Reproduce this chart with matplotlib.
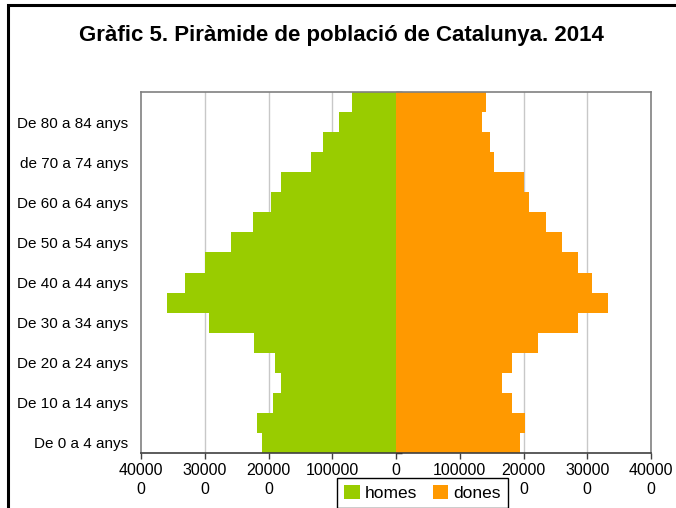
import numpy as np
import matplotlib.pyplot as plt
from matplotlib.patches import Rectangle

# grups d'edat (de baix a dalt)
grups = ['De 0 a 4 anys', 'De 5 a 9 anys', 'De 10 a 14 anys', 'De 15 a 19 anys',
         'De 20 a 24 anys', 'De 25 a 29 anys', 'De 30 a 34 anys', 'De 35 a 39 anys',
         'De 40 a 44 anys', 'De 45 a 49 anys', 'De 50 a 54 anys', 'De 55 a 59 anys',
         'De 60 a 64 anys', 'De 65 a 69 anys', 'de 70 a 74 anys', 'De 75 a 79 anys',
         'De 80 a 84 anys', 'De 85 anys i més']
homes = [210000, 218000, 193000, 181000, 190000, 222000, 293000, 359000, 331000,
         300000, 259000, 224000, 196000, 180000, 134000, 115000, 90000, 69000]
dones = [194000, 202000, 182000, 166000, 182000, 222000, 285000, 332000, 307000,
         285000, 260000, 235000, 209000, 200000, 154000, 147000, 135000, 141000]

xticks = [-400000, -300000, -200000, -100000, 0, 100000, 200000, 300000, 400000]
xlabels = ['40000\n0', '30000\n0', '20000\n0', '100000', '0', '100000',
           '20000\n0', '30000\n0', '40000\n0']

verd = '#99CC00'
taronja = '#FF9900'

plt.rcParams['font.family'] = ['Liberation Sans', 'DejaVu Sans']

fig = plt.figure(figsize=(6.76, 5.08), dpi=100)
ax = fig.add_axes([141/676, 1-453/508, 510/676, 361/508])

y = np.arange(len(grups))
ax.barh(y, -np.array(homes), height=1.0, color=verd, label='homes', zorder=2)
ax.barh(y, dones, height=1.0, color=taronja, label='dones', zorder=2)

ax.set_xlim(-400000, 400000)
ax.set_ylim(-0.5, len(grups) - 0.5)
ax.set_xticks(xticks)
ax.set_xticklabels(xlabels, fontsize=11.5, linespacing=1.35)
ax.set_yticks(y[::2])
ax.set_yticklabels(grups[::2], fontsize=11)
ax.tick_params(axis='y', length=0, pad=9)
ax.tick_params(axis='x', length=4, width=1, color='#404040', pad=3)
for v in [-300000, -200000, -100000, 100000, 200000, 300000]:
    ax.axvline(v, color='#c8c8c8', lw=1, zorder=1)
for s in ['left', 'right', 'top']:
    ax.spines[s].set_color('#808080')
    ax.spines[s].set_linewidth(1.2)
ax.spines['bottom'].set_color('#404040')
ax.spines['bottom'].set_linewidth(1.2)

# eix central amb marques
eix = ax.secondary_yaxis(0.5)
eix.set_yticks(np.arange(-0.5, len(grups), 1.0))
eix.set_yticklabels([])
eix.tick_params(length=4, width=1, color='black', direction='out')
eix.spines['left'].set_color('black')
eix.spines['left'].set_linewidth(1)

fig.text(0.505, 0.931, 'Gràfic 5. Piràmide de població de Catalunya. 2014',
         ha='center', va='center', fontsize=16, fontweight='bold')

leg = fig.legend(loc='upper left', bbox_to_anchor=(337/676, 1-478/508), ncol=2,
                 fontsize=12.5, handlelength=0.9, handleheight=0.9, handletextpad=0.3,
                 columnspacing=0.9, borderpad=0.4, borderaxespad=0, fancybox=False,
                 framealpha=1, edgecolor='black')
leg.get_frame().set_linewidth(1)

# marc exterior
fig.patches.append(Rectangle((8/676, -0.05), 1.1, 1-5/508+0.05, transform=fig.transFigure,
                             fill=False, edgecolor='black', lw=2.2))

fig.savefig('out.png', dpi=100)
